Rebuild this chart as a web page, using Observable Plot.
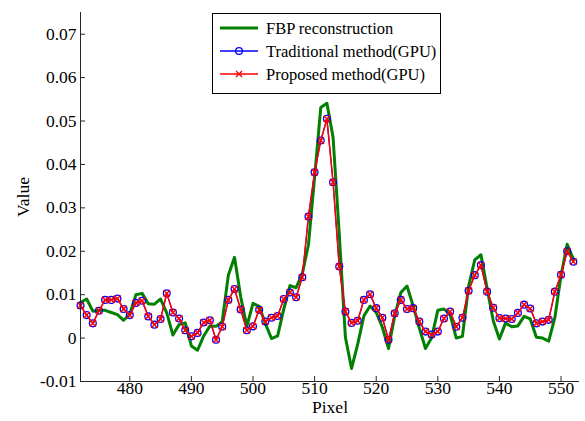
<!DOCTYPE html>
<html><head><meta charset="utf-8">
<script src="https://cdn.jsdelivr.net/npm/d3@7"></script>
<script src="https://cdn.jsdelivr.net/npm/@observablehq/plot@0.6"></script>
<style>
body{margin:0;background:#fff;}
#wrap{position:relative;width:585px;height:421px;font-family:"Liberation Serif","Times New Roman",serif;}
#wrap svg text{font-family:"Liberation Serif","Times New Roman",serif !important;font-variant-numeric:normal !important;}
#legend{position:absolute;left:0;top:0;pointer-events:none;}
</style>
</head><body>
<div id="wrap"></div>
<script>
const pixels = [472,473,474,475,476,477,478,479,480,481,482,483,484,485,486,487,488,489,490,491,492,493,494,495,496,497,498,499,500,501,502,503,504,505,506,507,508,509,510,511,512,513,514,515,516,517,518,519,520,521,522,523,524,525,526,527,528,529,530,531,532,533,534,535,536,537,538,539,540,541,542,543,544,545,546,547,548,549,550,551,552];

const fbp = [0.0082,0.0090,0.0062,0.0064,0.0064,0.0059,0.0054,0.0041,0.0055,0.0100,0.0103,0.0079,0.0078,0.0090,0.0058,0.0007,0.0031,0.0035,-0.0018,-0.0028,0.0005,0.0028,0.0027,0.0038,0.0145,0.0186,0.0095,0.0027,0.0080,0.0073,0.0034,-0.0001,0.0005,0.0067,0.0121,0.0116,0.0148,0.0215,0.0370,0.0531,0.0541,0.0462,0.0240,0.0002,-0.0070,-0.0014,0.0051,0.0074,0.0059,0.0025,-0.0024,0.0051,0.0105,0.0120,0.0074,0.0023,-0.0024,0.0001,0.0064,0.0067,0.0054,0.0000,0.0004,0.0120,0.0180,0.0192,0.0115,0.0040,-0.0002,0.0035,0.0026,0.0028,0.0050,0.0044,0.0002,0.0000,-0.0007,0.0047,0.0144,0.0216,0.0182];

const traditional = [0.0075,0.0053,0.0034,0.0063,0.0088,0.0088,0.0091,0.0067,0.0053,0.0081,0.0086,0.0050,0.0031,0.0044,0.0103,0.0059,0.0045,0.0018,0.0004,0.0012,0.0036,0.0041,-0.0004,0.0026,0.0088,0.0113,0.0066,0.0018,0.0027,0.0065,0.0038,0.0047,0.0051,0.0090,0.0105,0.0094,0.0140,0.0280,0.0382,0.0455,0.0505,0.0359,0.0165,0.0061,0.0035,0.0040,0.0088,0.0101,0.0069,0.0047,-0.0004,0.0057,0.0088,0.0067,0.0069,0.0038,0.0015,0.0008,0.0015,0.0045,0.0061,0.0026,0.0047,0.0109,0.0145,0.0168,0.0107,0.0070,0.0046,0.0045,0.0044,0.0058,0.0077,0.0068,0.0034,0.0038,0.0042,0.0107,0.0146,0.0200,0.0176];

const proposed = [0.0075,0.0053,0.0034,0.0063,0.0088,0.0088,0.0091,0.0067,0.0053,0.0081,0.0086,0.0050,0.0031,0.0044,0.0103,0.0059,0.0045,0.0018,0.0004,0.0012,0.0036,0.0041,-0.0004,0.0026,0.0088,0.0113,0.0066,0.0018,0.0027,0.0065,0.0038,0.0047,0.0051,0.0090,0.0105,0.0094,0.0140,0.0280,0.0382,0.0455,0.0505,0.0359,0.0165,0.0061,0.0035,0.0040,0.0088,0.0101,0.0069,0.0047,-0.0004,0.0057,0.0088,0.0067,0.0069,0.0038,0.0015,0.0008,0.0015,0.0045,0.0061,0.0026,0.0047,0.0109,0.0145,0.0168,0.0107,0.0070,0.0046,0.0045,0.0044,0.0058,0.0077,0.0068,0.0034,0.0038,0.0042,0.0107,0.0146,0.0200,0.0176];

const xTicks = [480,490,500,510,520,530,540,550];
const yTicks = [-0.01,0,0.01,0.02,0.03,0.04,0.05,0.06,0.07];
const seriesNames = ["FBP reconstruction","Traditional method(GPU)","Proposed method(GPU)"];
const seriesColors = ["#008000","#0000ff","#ff0000"];

const rows = pixels.map((p,i)=>({p, fbp: fbp[i], trad: traditional[i], prop: proposed[i]}));
const yFmt = d => d === 0 ? "0" : (d < 0 ? "-" : "") + Math.abs(d).toFixed(2);
const serif = "Liberation Serif";

const chart = Plot.plot({
  width: 585, height: 421,
  marginLeft: 80, marginRight: 6, marginTop: 12, marginBottom: 40,
  style: {fontFamily: "Liberation Serif, serif", fontSize: "17.5px", color: "#000", background: "#fff"},
  x: {domain: [472, 553]},
  y: {domain: [-0.01, 0.075]},
  marks: [
    Plot.line(rows, {x: "p", y: "fbp", stroke: seriesColors[0], strokeWidth: 3}),
    Plot.line(rows, {x: "p", y: "trad", stroke: seriesColors[1], strokeWidth: 1.2}),
    Plot.dot(rows, {x: "p", y: "trad", stroke: seriesColors[1], r: 3.4, strokeWidth: 1.3}),
    Plot.line(rows, {x: "p", y: "prop", stroke: seriesColors[2], strokeWidth: 1.5}),
    Plot.dot(rows, {x: "p", y: "prop", stroke: seriesColors[2], symbol: "times", r: 3, strokeWidth: 1.4}),
    Plot.axisX({ticks: xTicks, tickSize: -5, tickPadding: 5, tickFormat: d => String(d), fontFamily: serif, label: "Pixel", labelAnchor: "center", labelOffset: 31, labelArrow: "none", stroke: "#262626"}),
    Plot.axisY({ticks: yTicks, tickSize: -5, tickPadding: 9, tickFormat: yFmt, fontFamily: serif, label: "Value", labelAnchor: "center", labelOffset: 64, labelArrow: "none", stroke: "#262626"}),
    Plot.ruleX([472], {stroke: "#262626"}),
    Plot.ruleY([-0.01], {stroke: "#262626"})
  ]
});
const wrap = document.getElementById("wrap");
wrap.appendChild(chart);

// legend overlay
const ns = "http://www.w3.org/2000/svg";
const lg = document.createElementNS(ns, "svg");
lg.setAttribute("id","legend");
lg.setAttribute("width","585"); lg.setAttribute("height","421");
const bx = 212.5, by = 13.5, bw = 228, bh = 80;
let html = `<rect x="${bx}" y="${by}" width="${bw}" height="${bh}" fill="#fff" stroke="#000" stroke-width="1"/>`;
const rowsY = [28, 51, 74];
seriesNames.forEach((name, i) => {
  const yy = rowsY[i];
  html += `<line x1="220" x2="258" y1="${yy}" y2="${yy}" stroke="${seriesColors[i]}" stroke-width="${i===0?3:1.3}"/>`;
  if (i === 1) html += `<circle cx="239" cy="${yy}" r="3.4" fill="none" stroke="${seriesColors[i]}" stroke-width="1.3"/>`;
  if (i === 2) html += `<path d="M${239-3},${yy-3}L${239+3},${yy+3}M${239+3},${yy-3}L${239-3},${yy+3}" stroke="${seriesColors[i]}" stroke-width="1.4"/>`;
  html += `<text x="266" y="${yy}" dy="0.35em" font-size="16.5" fill="#000">${name}</text>`;
});
lg.innerHTML = html;
wrap.appendChild(lg);
</script>
</body></html>
